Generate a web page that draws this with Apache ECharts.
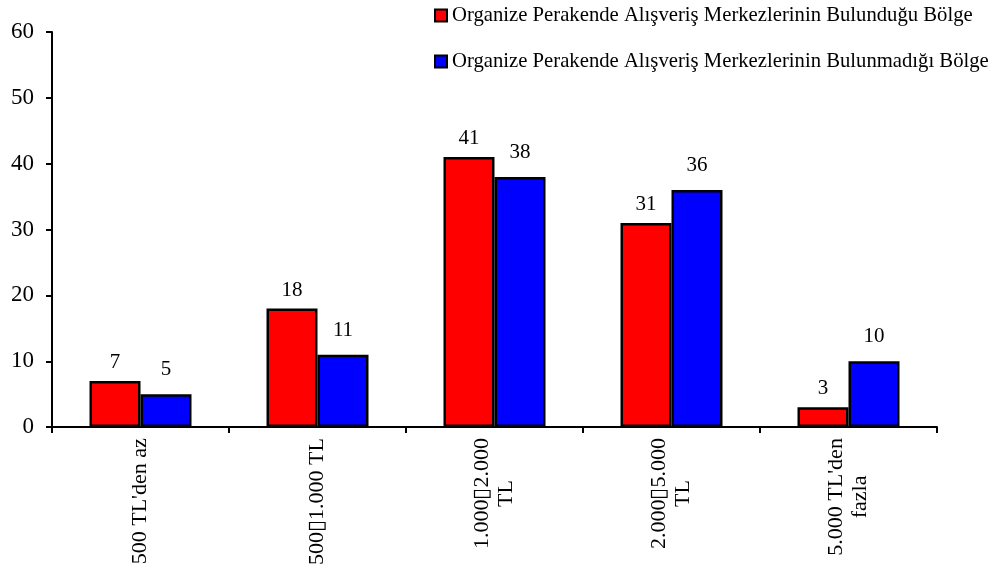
<!DOCTYPE html>
<html>
<head>
<meta charset="utf-8">
<script src="https://cdn.jsdelivr.net/npm/echarts@6/dist/echarts.min.js"></script>
<style>
html,body{margin:0;padding:0;background:#fff;}
#c{width:997px;height:568px;}
</style>
</head>
<body>
<div id="c"></div>
<script>
const categories = ["500 TL'den az", "500\u25AF1.000 TL", "1.000\u25AF2.000\nTL", "2.000\u25AF5.000\nTL", "5.000 TL'den\nfazla"];
const seriesNames = ["Organize Perakende Alışveriş Merkezlerinin Bulunduğu Bölge", "Organize Perakende Alışveriş Merkezlerinin Bulunmadığı Bölge"];
const bulundugu = [7, 18, 41, 31, 3];
const bulunmadigi = [5, 11, 38, 36, 10];
const yTicks = [0, 10, 20, 30, 40, 50, 60];

const FONT = '"Liberation Serif", "Times New Roman", serif';
const chart = echarts.init(document.getElementById('c'));
const mkLabel = d => ({show: true, position: 'top', distance: d, color: '#000', fontFamily: FONT, fontSize: 21, lineHeight: 21});
chart.setOption({
  animation: false,
  backgroundColor: '#fff',
  textStyle: {fontFamily: FONT},
  legend: {
    orient: 'vertical',
    left: 429, top: 0,
    itemWidth: 12, itemHeight: 12,
    itemGap: 25,
    icon: 'rect',
    textStyle: {fontFamily: FONT, fontSize: 20.7, lineHeight: 21, color: '#000', padding: [0,0,0,0]},
    data: seriesNames.map(n => ({name: n, itemStyle: {borderColor: '#000', borderWidth: 2}}))
  },
  grid: {left: 52, right: 60, top: 32, bottom: 140, containLabel: false},
  xAxis: {
    type: 'category',
    data: categories,
    axisLine: {lineStyle: {color: '#000', width: 2}},
    axisTick: {show: true, interval: 0, length: 6, lineStyle: {color: '#000', width: 2}},
    axisLabel: {rotate: 90, interval: 0, margin: 11, color: '#000', fontFamily: FONT, fontSize: 22, lineHeight: 24,
      align: 'right', verticalAlign: 'middle',
      formatter: v => v.split('\n').map(l => '{c|' + l + '}').join('\n'),
      rich: {c: {align: 'center', fontFamily: FONT, fontSize: 22, lineHeight: 24, color: '#000'}}
    }
  },
  yAxis: {
    type: 'value', min: 0, max: 60, interval: 10,
    axisLine: {show: true, lineStyle: {color: '#000', width: 2}},
    axisTick: {show: true, inside: false, length: 6, lineStyle: {color: '#000', width: 2}},
    splitLine: {show: false},
    axisLabel: {color: '#000', fontFamily: FONT, fontSize: 23, margin: 18,
      formatter: v => yTicks.includes(v) ? String(v) : ''}
  },
  series: [
    {name: seriesNames[0], type: 'bar', data: bulundugu, barWidth: 51, barGap: '0%',
     itemStyle: {color: '#ff0000', borderColor: '#000', borderWidth: 2.5}, label: mkLabel(8)},
    {name: seriesNames[1], type: 'bar', data: bulunmadigi, barWidth: 51, barGap: '0%',
     itemStyle: {color: '#0000ff', borderColor: '#000', borderWidth: 2.5}, label: mkLabel(14)}
  ]
});
</script>
</body>
</html>
